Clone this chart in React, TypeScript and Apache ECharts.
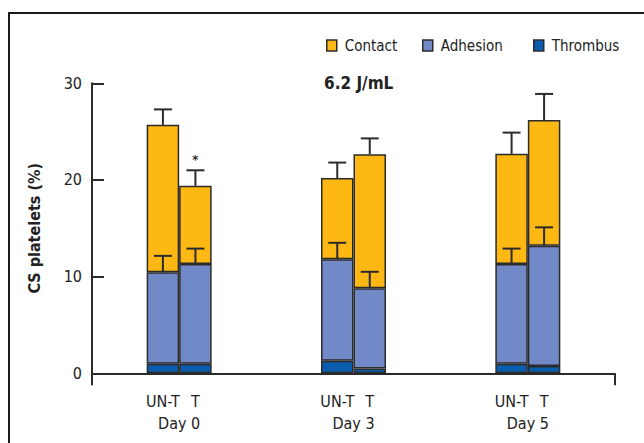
import React, { useEffect, useRef } from "react";
import * as echarts from "echarts";

// Sampling days and treatment groups
const days = ["Day 0", "Day 3", "Day 5"];
const groups = ["UN-T", "T"];

// Stacked components (% of CS platelets), one value per day
const thrombusUntreated = [1.0, 1.3, 1.0];
const adhesionUntreated = [9.45, 10.5, 10.3];
const contactUntreated = [15.25, 8.4, 11.4];

const thrombusTreated = [1.0, 0.5, 0.75];
const adhesionTreated = [10.3, 8.3, 12.45];
const contactTreated = [8.1, 13.85, 13.0];

// Upward error bars (SD) on the adhesion level and on the total
const adhesionErrUntreated = [1.7, 1.7, 1.6];
const adhesionErrTreated = [1.6, 1.7, 1.9];
const totalErrUntreated = [1.6, 1.6, 2.2];
const totalErrTreated = [1.6, 1.65, 2.7];

// Significance marks over the treated totals
const significanceTreated = ["*", "", ""];

const yTicks = { min: 0, max: 30, interval: 10 };

const FONT = '"Liberation Sans Narrow", "DejaVu Sans Condensed", "Liberation Sans", sans-serif';
const INK = "#2b2b2b";
const COLORS = { Contact: "#FDB813", Adhesion: "#7189C6", Thrombus: "#0B5CAD" };
const BAR_W = 32.5;

export default function App() {
  const ref = useRef<HTMLDivElement>(null);

  useEffect(() => {
    if (!ref.current) return;
    const chart = echarts.init(ref.current, undefined, { renderer: "svg" });

    const stacks = [
      { key: "unt", thrombus: thrombusUntreated, adhesion: adhesionUntreated, contact: contactUntreated, adhErr: adhesionErrUntreated, totErr: totalErrUntreated, sig: days.map(() => "") },
      { key: "t", thrombus: thrombusTreated, adhesion: adhesionTreated, contact: contactTreated, adhErr: adhesionErrTreated, totErr: totalErrTreated, sig: significanceTreated },
    ];

    const barStyle = (name: string) => ({
      color: (COLORS as any)[name],
      borderColor: INK,
      borderWidth: 1.5,
    });

    const barSeries: any[] = [];
    stacks.forEach((s) => {
      const parts: [string, number[]][] = [
        ["Thrombus", s.thrombus],
        ["Adhesion", s.adhesion],
        ["Contact", s.contact],
      ];
      parts.forEach(([name, values]) => {
        barSeries.push({
          type: "bar",
          name,
          stack: s.key,
          data: values,
          barWidth: BAR_W,
          barGap: "0%",
          itemStyle: barStyle(name),
          emphasis: { disabled: true },
        });
      });
    });

    // Error bar data: [dayIndex, level, error, side]
    const errData: number[][] = [];
    const errMarks: string[] = [];
    stacks.forEach((s, side) => {
      days.forEach((_, i) => {
        const adhTop = s.thrombus[i] + s.adhesion[i];
        const total = adhTop + s.contact[i];
        errData.push([i, adhTop, s.adhErr[i], side]);
        errMarks.push("");
        errData.push([i, total, s.totErr[i], side]);
        errMarks.push(s.sig[i]);
      });
    });

    const errorSeries = {
      type: "custom",
      name: "error",
      z: 5,
      silent: true,
      data: errData,
      renderItem: (params: any, api: any) => {
        const i = api.value(0);
        const level = api.value(1);
        const err = api.value(2);
        const side = api.value(3);
        const base = api.coord([i, level]);
        const tip = api.coord([i, level + err]);
        const x = base[0] + (side === 0 ? -1 : 1) * (BAR_W / 2);
        const lineStyle = { stroke: INK, lineWidth: 2 };
        const children: any[] = [
          { type: "line", shape: { x1: x, y1: base[1], x2: x, y2: tip[1] }, style: lineStyle },
          { type: "line", shape: { x1: x - 9, y1: tip[1], x2: x + 9, y2: tip[1] }, style: lineStyle },
        ];
        const mark = errMarks[params.dataIndex];
        if (mark) {
          children.push({
            type: "text",
            style: {
              text: mark,
              x,
              y: tip[1] - 4,
              align: "center",
              verticalAlign: "bottom",
              fill: INK,
              font: `bold 13px ${FONT}`,
            },
          });
        }
        return { type: "group", children };
      },
    };

    const legendItem = (name: string, left: number) => ({
      show: true,
      left,
      top: 33,
      icon: "rect",
      itemWidth: 10,
      itemHeight: 11,
      selectedMode: false,
      data: [name],
      itemStyle: { borderColor: INK, borderWidth: 1.5 },
      textStyle: { fontFamily: FONT, fontSize: 15, color: "#222", padding: [0, 0, 0, 3] },
    });

    chart.setOption({
      animation: false,
      backgroundColor: "#ffffff",
      title: {
        text: "6.2 J/mL",
        left: 319,
        top: 69,
        textStyle: { fontFamily: FONT, fontSize: 17, fontWeight: "bold", color: "#222" },
      },
      legend: [legendItem("Contact", 321), legendItem("Adhesion", 417), legendItem("Thrombus", 528)],
      grid: { left: 92, right: 29, top: 83.3, bottom: 69.7, containLabel: false },
      xAxis: {
        type: "category",
        data: days,
        axisLine: { lineStyle: { color: INK, width: 2 } },
        axisTick: { show: true, interval: (idx: number) => idx === 0, length: 12, inside: false, lineStyle: { color: INK, width: 2 } },
        axisLabel: {
          margin: 17,
          interval: 0,
          formatter: (v: string) => `{g|${groups[0]}}{g|${groups[1]}}\n{d|${v}}`,
          rich: {
            g: { width: BAR_W, align: "center", fontFamily: FONT, fontSize: 16, color: "#222", lineHeight: 22 },
            d: { fontFamily: FONT, fontSize: 16, color: "#222", lineHeight: 22 },
          },
        },
      },
      yAxis: {
        type: "value",
        min: yTicks.min,
        max: yTicks.max,
        interval: yTicks.interval,
        name: "CS platelets (%)",
        nameLocation: "middle",
        nameGap: 50,
        nameTextStyle: { fontFamily: FONT, fontSize: 16, fontWeight: "bold", color: "#222" },
        splitLine: { show: false },
        axisLine: { show: true, lineStyle: { color: INK, width: 2 } },
        axisTick: { show: true, inside: true, length: 12, lineStyle: { color: INK, width: 2 } },
        axisLabel: { margin: 10, fontFamily: FONT, fontSize: 16, color: "#222" },
      },
      graphic: [
        {
          type: "rect",
          silent: true,
          shape: { x: 9, y: 13, width: 700, height: 500 },
          style: { fill: "none", stroke: "#1a1a1a", lineWidth: 2 },
        },
      ],
      series: [...barSeries, errorSeries],
    });

    return () => chart.dispose();
  }, []);

  return (
    <div
      ref={ref}
      style={{ position: "absolute", left: 0, top: 0, width: 644, height: 443 }}
    />
  );
}
